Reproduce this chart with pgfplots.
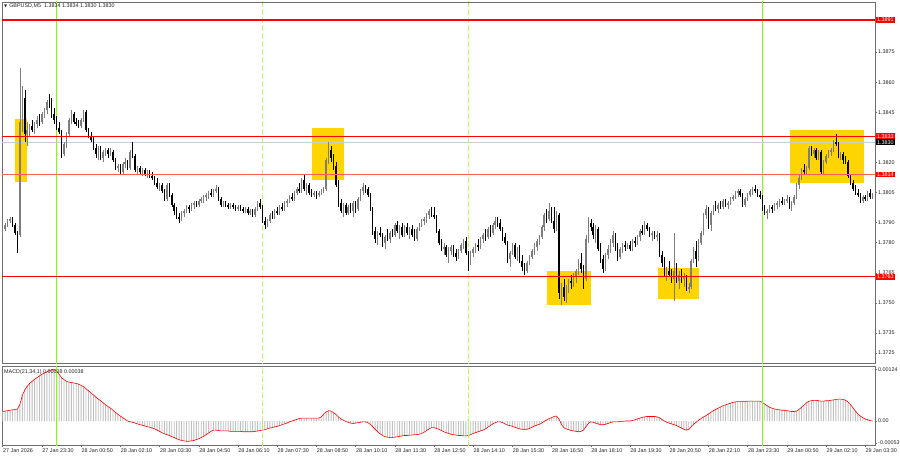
\documentclass[border=0pt]{standalone}
\usepackage{pgfplots}
\pgfplotsset{compat=1.18}
\usepackage{pgfplotstable}
\usepackage{fontspec}
\setmainfont{Liberation Sans}
\newfontfamily\symfont{DejaVu Sans}
\definecolor{lvlred}{RGB}{255,0,0}
\definecolor{lvlpink}{RGB}{255,95,95}
\definecolor{boxgold}{RGB}{255,213,0}
\definecolor{vgreen}{RGB}{128,255,0}
\definecolor{vgreen2}{RGB}{170,255,80}
\definecolor{bullgray}{RGB}{125,125,125}
\definecolor{histgray}{RGB}{192,192,192}
\definecolor{framegray}{RGB}{110,110,110}

\pgfplotstableread{
o h l c m
1.3786 1.3788 1.3784 1.3787 23e-5
1.3787 1.3790 1.3786 1.3789 24e-5
1.3789 1.3792 1.3788 1.3791 25e-5
1.3791 1.3793 1.3790 1.3792 26e-5
1.3792 1.3793 1.3788 1.3789 27e-5
1.3789 1.3790 1.3784 1.3785 28e-5
1.3785 1.3786 1.3775 1.3784 29e-5
1.3784 1.3867 1.3783 1.3840 40e-5
1.3840 1.3858 1.3835 1.3852 62e-5
1.3852 1.3856 1.3830 1.3834 75e-5
1.3834 1.3840 1.3828 1.3836 84e-5
1.3836 1.3839 1.3833 1.3838 91e-5
1.3838 1.3841 1.3835 1.3836 96e-5
1.3836 1.3840 1.3834 1.3839 101e-5
1.3839 1.3843 1.3837 1.3841 105e-5
1.3841 1.3844 1.3838 1.3840 109e-5
1.3840 1.3845 1.3839 1.3844 113e-5
1.3844 1.3847 1.3842 1.3846 116e-5
1.3846 1.3851 1.3844 1.3850 119e-5
1.3850 1.3854 1.3847 1.3848 122e-5
1.3848 1.3852 1.3842 1.3844 124e-5
1.3844 1.3847 1.3839 1.3841 124e-5
1.3841 1.3843 1.3836 1.3837 121e-5
1.3837 1.3840 1.3834 1.3835 113e-5
1.3835 1.3836 1.3822 1.3824 105e-5
1.3824 1.3830 1.3823 1.3829 100e-5
1.3829 1.3835 1.3827 1.3834 96e-5
1.3834 1.3842 1.3833 1.3841 94e-5
1.3841 1.3846 1.3839 1.3844 93e-5
1.3844 1.3845 1.3839 1.3840 92e-5
1.3840 1.3842 1.3838 1.3839 91e-5
1.3839 1.3841 1.3837 1.3838 89e-5
1.3838 1.3842 1.3837 1.3841 86e-5
1.3841 1.3846 1.3840 1.3845 83e-5
1.3845 1.3846 1.3835 1.3836 78e-5
1.3836 1.3837 1.3832 1.3833 73e-5
1.3833 1.3835 1.3830 1.3831 68e-5
1.3831 1.3833 1.3826 1.3827 63e-5
1.3827 1.3829 1.3822 1.3824 58e-5
1.3824 1.3828 1.3821 1.3826 53e-5
1.3826 1.3828 1.3821 1.3822 49e-5
1.3822 1.3826 1.3820 1.3825 44e-5
1.3825 1.3827 1.3823 1.3826 39e-5
1.3826 1.3827 1.3822 1.3824 35e-5
1.3824 1.3827 1.3823 1.3825 31e-5
1.3825 1.3826 1.3820 1.3821 26e-5
1.3821 1.3822 1.3816 1.3817 21e-5
1.3817 1.3819 1.3815 1.3818 16e-5
1.3818 1.3819 1.3814 1.3815 12e-5
1.3815 1.3820 1.3814 1.3819 8e-5
1.3819 1.3822 1.3817 1.3820 4e-5
1.3820 1.3821 1.3816 1.3817 0
1.3817 1.3826 1.3816 1.3825 -2e-5
1.3825 1.3830 1.3822 1.3823 -3e-5
1.3823 1.3824 1.3815 1.3816 -5e-5
1.3816 1.3818 1.3814 1.3817 -7e-5
1.3817 1.3818 1.3814 1.3815 -9e-5
1.3815 1.3817 1.3813 1.3816 -10e-5
1.3816 1.3817 1.3813 1.3814 -12e-5
1.3814 1.3816 1.3812 1.3815 -14e-5
1.3815 1.3816 1.3812 1.3813 -15e-5
1.3813 1.3815 1.3811 1.3812 -17e-5
1.3812 1.3813 1.3809 1.3810 -19e-5
1.3810 1.3812 1.3807 1.3808 -22e-5
1.3808 1.3810 1.3806 1.3809 -25e-5
1.3809 1.3810 1.3805 1.3806 -28e-5
1.3806 1.3807 1.3801 1.3802 -31e-5
1.3802 1.3810 1.3801 1.3809 -33e-5
1.3809 1.3810 1.3803 1.3804 -35e-5
1.3804 1.3805 1.3798 1.3799 -38e-5
1.3799 1.3800 1.3794 1.3796 -40e-5
1.3796 1.3798 1.3792 1.3793 -43e-5
1.3793 1.3795 1.3790 1.3792 -45e-5
1.3792 1.3796 1.3791 1.3795 -47e-5
1.3795 1.3797 1.3793 1.3796 -48e-5
1.3796 1.3799 1.3795 1.3798 -49e-5
1.3798 1.3799 1.3795 1.3797 -49e-5
1.3797 1.3800 1.3796 1.3799 -48e-5
1.3799 1.3801 1.3797 1.3800 -47e-5
1.3800 1.3801 1.3798 1.3799 -45e-5
1.3799 1.3802 1.3798 1.3801 -43e-5
1.3801 1.3803 1.3800 1.3802 -40e-5
1.3802 1.3804 1.3800 1.3803 -37e-5
1.3803 1.3805 1.3801 1.3804 -33e-5
1.3804 1.3806 1.3802 1.3805 -29e-5
1.3805 1.3807 1.3803 1.3804 -25e-5
1.3804 1.3807 1.3803 1.3806 -22e-5
1.3806 1.3809 1.3805 1.3807 -22e-5
1.3807 1.3808 1.3801 1.3802 -23e-5
1.3802 1.3803 1.3798 1.3799 -24e-5
1.3799 1.3801 1.3798 1.3800 -24e-5
1.3800 1.3801 1.3798 1.3799 -24e-5
1.3799 1.3800 1.3797 1.3798 -24e-5
1.3798 1.3800 1.3797 1.3799 -25e-5
1.3799 1.3800 1.3797 1.3798 -25e-5
1.3798 1.3799 1.3796 1.3797 -25e-5
1.3797 1.3799 1.3796 1.3798 -25e-5
1.3798 1.3799 1.3796 1.3797 -25e-5
1.3797 1.3798 1.3795 1.3796 -26e-5
1.3796 1.3798 1.3795 1.3797 -26e-5
1.3797 1.3798 1.3794 1.3795 -26e-5
1.3795 1.3797 1.3794 1.3796 -26e-5
1.3796 1.3797 1.3793 1.3794 -26e-5
1.3794 1.3798 1.3793 1.3797 -25e-5
1.3797 1.3801 1.3796 1.3800 -24e-5
1.3800 1.3802 1.3797 1.3798 -23e-5
1.3798 1.3799 1.3790 1.3791 -22e-5
1.3791 1.3793 1.3787 1.3789 -21e-5
1.3789 1.3792 1.3788 1.3791 -19e-5
1.3791 1.3795 1.3790 1.3794 -17e-5
1.3794 1.3796 1.3792 1.3793 -16e-5
1.3793 1.3797 1.3792 1.3796 -14e-5
1.3796 1.3798 1.3794 1.3795 -13e-5
1.3795 1.3799 1.3794 1.3798 -11e-5
1.3798 1.3800 1.3796 1.3797 -9e-5
1.3797 1.3801 1.3796 1.3800 -7e-5
1.3800 1.3802 1.3798 1.3801 -5e-5
1.3801 1.3804 1.3800 1.3803 -2e-5
1.3803 1.3805 1.3801 1.3802 0
1.3802 1.3806 1.3801 1.3805 2e-5
1.3805 1.3808 1.3804 1.3807 4e-5
1.3807 1.3810 1.3805 1.3806 6e-5
1.3806 1.3812 1.3805 1.3811 7e-5
1.3811 1.3814 1.3806 1.3807 7e-5
1.3807 1.3810 1.3804 1.3809 7e-5
1.3809 1.3810 1.3804 1.3805 7e-5
1.3805 1.3807 1.3803 1.3804 7e-5
1.3804 1.3806 1.3803 1.3805 7e-5
1.3805 1.3806 1.3802 1.3804 7e-5
1.3804 1.3806 1.3803 1.3805 7e-5
1.3805 1.3807 1.3804 1.3806 10e-5
1.3806 1.3808 1.3805 1.3807 17e-5
1.3807 1.3822 1.3806 1.3821 22e-5
1.3821 1.3830 1.3819 1.3826 25e-5
1.3826 1.3828 1.3820 1.3822 24e-5
1.3822 1.3824 1.3816 1.3818 20e-5
1.3818 1.3820 1.3808 1.3809 16e-5
1.3809 1.3811 1.3798 1.3800 10e-5
1.3800 1.3802 1.3795 1.3796 5e-5
1.3796 1.3800 1.3793 1.3799 2e-5
1.3799 1.3800 1.3794 1.3795 -1e-5
1.3795 1.3799 1.3794 1.3798 -3e-5
1.3798 1.3800 1.3795 1.3796 -5e-5
1.3796 1.3801 1.3793 1.3800 -6e-5
1.3800 1.3801 1.3795 1.3797 -5e-5
1.3797 1.3803 1.3796 1.3802 -4e-5
1.3802 1.3807 1.3801 1.3806 -3e-5
1.3806 1.3810 1.3804 1.3808 -2e-5
1.3808 1.3809 1.3805 1.3807 -2e-5
1.3807 1.3808 1.3803 1.3804 -4e-5
1.3804 1.3805 1.3796 1.3797 -8e-5
1.3797 1.3798 1.3784 1.3786 -14e-5
1.3786 1.3788 1.3780 1.3782 -20e-5
1.3782 1.3786 1.3779 1.3785 -26e-5
1.3785 1.3788 1.3783 1.3784 -31e-5
1.3784 1.3785 1.3778 1.3780 -35e-5
1.3780 1.3784 1.3777 1.3783 -38e-5
1.3783 1.3787 1.3781 1.3782 -39e-5
1.3782 1.3786 1.3780 1.3785 -40e-5
1.3785 1.3787 1.3783 1.3784 -40e-5
1.3784 1.3790 1.3783 1.3789 -39e-5
1.3789 1.3791 1.3785 1.3786 -38e-5
1.3786 1.3789 1.3782 1.3788 -37e-5
1.3788 1.3790 1.3783 1.3784 -36e-5
1.3784 1.3789 1.3783 1.3788 -35e-5
1.3788 1.3790 1.3784 1.3785 -35e-5
1.3785 1.3788 1.3782 1.3787 -34e-5
1.3787 1.3789 1.3783 1.3784 -34e-5
1.3784 1.3787 1.3781 1.3782 -33e-5
1.3782 1.3788 1.3781 1.3787 -33e-5
1.3787 1.3790 1.3786 1.3789 -32e-5
1.3789 1.3792 1.3788 1.3791 -30e-5
1.3791 1.3793 1.3789 1.3792 -27e-5
1.3792 1.3795 1.3790 1.3794 -23e-5
1.3794 1.3797 1.3792 1.3796 -19e-5
1.3796 1.3798 1.3793 1.3794 -16e-5
1.3794 1.3798 1.3792 1.3793 -16e-5
1.3793 1.3794 1.3785 1.3786 -18e-5
1.3786 1.3787 1.3779 1.3780 -20e-5
1.3780 1.3782 1.3776 1.3777 -23e-5
1.3777 1.3780 1.3774 1.3778 -26e-5
1.3778 1.3779 1.3773 1.3774 -28e-5
1.3774 1.3778 1.3770 1.3776 -30e-5
1.3776 1.3779 1.3774 1.3778 -32e-5
1.3778 1.3779 1.3773 1.3775 -33e-5
1.3775 1.3777 1.3771 1.3773 -34e-5
1.3773 1.3777 1.3772 1.3776 -35e-5
1.3776 1.3780 1.3775 1.3779 -35e-5
1.3779 1.3782 1.3777 1.3781 -36e-5
1.3781 1.3783 1.3774 1.3775 -36e-5
1.3775 1.3776 1.3766 1.3770 -35e-5
1.3770 1.3776 1.3769 1.3775 -33e-5
1.3775 1.3778 1.3773 1.3777 -30e-5
1.3777 1.3780 1.3775 1.3779 -28e-5
1.3779 1.3782 1.3776 1.3778 -26e-5
1.3778 1.3783 1.3777 1.3782 -24e-5
1.3782 1.3785 1.3780 1.3784 -22e-5
1.3784 1.3787 1.3781 1.3783 -19e-5
1.3783 1.3788 1.3782 1.3787 -15e-5
1.3787 1.3789 1.3783 1.3785 -11e-5
1.3785 1.3790 1.3784 1.3789 -7e-5
1.3789 1.3793 1.3787 1.3791 -4e-5
1.3791 1.3793 1.3788 1.3790 -2e-5
1.3790 1.3792 1.3786 1.3787 -2e-5
1.3787 1.3788 1.3781 1.3783 -4e-5
1.3783 1.3785 1.3779 1.3780 -7e-5
1.3780 1.3781 1.3770 1.3772 -10e-5
1.3772 1.3776 1.3768 1.3775 -11e-5
1.3775 1.3780 1.3774 1.3779 -13e-5
1.3779 1.3780 1.3772 1.3773 -15e-5
1.3773 1.3778 1.3771 1.3777 -17e-5
1.3777 1.3779 1.3770 1.3771 -19e-5
1.3771 1.3774 1.3766 1.3768 -20e-5
1.3768 1.3770 1.3764 1.3766 -20e-5
1.3766 1.3771 1.3765 1.3770 -20e-5
1.3770 1.3774 1.3769 1.3773 -18e-5
1.3773 1.3777 1.3772 1.3776 -15e-5
1.3776 1.3780 1.3774 1.3778 -12e-5
1.3778 1.3782 1.3776 1.3781 -10e-5
1.3781 1.3784 1.3779 1.3783 -8e-5
1.3783 1.3789 1.3782 1.3788 -5e-5
1.3788 1.3795 1.3786 1.3794 -1e-5
1.3794 1.3797 1.3790 1.3792 3e-5
1.3792 1.3800 1.3791 1.3796 6e-5
1.3796 1.3798 1.3790 1.3791 8e-5
1.3791 1.3798 1.3785 1.3787 11e-5
1.3787 1.3796 1.3786 1.3794 12e-5
1.3794 1.3795 1.3752 1.3755 5e-5
1.3755 1.3760 1.3749 1.3758 -8e-5
1.3758 1.3762 1.3751 1.3753 -16e-5
1.3753 1.3759 1.3750 1.3757 -19e-5
1.3757 1.3762 1.3755 1.3761 -21e-5
1.3761 1.3764 1.3757 1.3760 -23e-5
1.3760 1.3765 1.3758 1.3763 -24e-5
1.3763 1.3767 1.3760 1.3766 -25e-5
1.3766 1.3772 1.3764 1.3770 -26e-5
1.3770 1.3775 1.3765 1.3767 -25e-5
1.3767 1.3769 1.3757 1.3762 -22e-5
1.3762 1.3784 1.3761 1.3782 -14e-5
1.3782 1.3793 1.3780 1.3790 -6e-5
1.3790 1.3792 1.3786 1.3788 -2e-5
1.3788 1.3790 1.3782 1.3784 -3e-5
1.3784 1.3789 1.3780 1.3787 -5e-5
1.3787 1.3788 1.3776 1.3777 -7e-5
1.3777 1.3780 1.3770 1.3772 -9e-5
1.3772 1.3774 1.3765 1.3767 -9e-5
1.3767 1.3775 1.3766 1.3774 -8e-5
1.3774 1.3779 1.3772 1.3777 -6e-5
1.3777 1.3782 1.3775 1.3780 -4e-5
1.3780 1.3786 1.3778 1.3784 -2e-5
1.3784 1.3785 1.3776 1.3778 -2e-5
1.3778 1.3780 1.3771 1.3773 -2e-5
1.3773 1.3778 1.3772 1.3777 -1e-5
1.3777 1.3780 1.3775 1.3779 -1e-5
1.3779 1.3781 1.3776 1.3778 0
1.3778 1.3780 1.3777 1.3779 0
1.3779 1.3781 1.3776 1.3777 0
1.3777 1.3782 1.3776 1.3781 1e-5
1.3781 1.3783 1.3778 1.3780 3e-5
1.3780 1.3784 1.3779 1.3783 5e-5
1.3783 1.3787 1.3781 1.3786 7e-5
1.3786 1.3789 1.3784 1.3785 9e-5
1.3785 1.3791 1.3784 1.3789 10e-5
1.3789 1.3790 1.3786 1.3787 11e-5
1.3787 1.3788 1.3783 1.3784 11e-5
1.3784 1.3786 1.3781 1.3785 11e-5
1.3785 1.3786 1.3782 1.3783 11e-5
1.3783 1.3786 1.3781 1.3784 10e-5
1.3784 1.3785 1.3773 1.3774 8e-5
1.3774 1.3776 1.3768 1.3770 4e-5
1.3770 1.3773 1.3763 1.3765 0
1.3765 1.3768 1.3761 1.3766 -3e-5
1.3766 1.3771 1.3763 1.3764 -5e-5
1.3764 1.3767 1.3760 1.3762 -7e-5
1.3762 1.3785 1.3751 1.3766 -9e-5
1.3766 1.3770 1.3760 1.3761 -11e-5
1.3761 1.3766 1.3757 1.3764 -14e-5
1.3764 1.3767 1.3760 1.3762 -17e-5
1.3762 1.3765 1.3758 1.3763 -20e-5
1.3763 1.3764 1.3756 1.3757 -22e-5
1.3757 1.3760 1.3755 1.3758 -20e-5
1.3758 1.3772 1.3757 1.3771 -14e-5
1.3771 1.3778 1.3770 1.3776 -8e-5
1.3776 1.3781 1.3768 1.3772 -3e-5
1.3772 1.3782 1.3771 1.3780 2e-5
1.3780 1.3786 1.3779 1.3785 6e-5
1.3785 1.3795 1.3784 1.3794 10e-5
1.3794 1.3799 1.3792 1.3797 13e-5
1.3797 1.3798 1.3787 1.3789 17e-5
1.3789 1.3796 1.3786 1.3795 21e-5
1.3795 1.3799 1.3794 1.3798 25e-5
1.3798 1.3801 1.3796 1.3797 28e-5
1.3797 1.3800 1.3795 1.3799 31e-5
1.3799 1.3801 1.3797 1.3798 34e-5
1.3798 1.3802 1.3797 1.3801 37e-5
1.3801 1.3802 1.3798 1.3799 39e-5
1.3799 1.3801 1.3797 1.3800 41e-5
1.3800 1.3803 1.3799 1.3802 43e-5
1.3802 1.3804 1.3801 1.3803 45e-5
1.3803 1.3806 1.3802 1.3805 46e-5
1.3805 1.3807 1.3803 1.3806 47e-5
1.3806 1.3807 1.3803 1.3804 47e-5
1.3804 1.3805 1.3798 1.3799 47e-5
1.3799 1.3803 1.3798 1.3802 47e-5
1.3802 1.3805 1.3801 1.3804 48e-5
1.3804 1.3807 1.3803 1.3806 48e-5
1.3806 1.3808 1.3804 1.3807 48e-5
1.3807 1.3809 1.3805 1.3806 48e-5
1.3806 1.3807 1.3803 1.3804 48e-5
1.3804 1.3806 1.3802 1.3803 48e-5
1.3803 1.3804 1.3796 1.3797 45e-5
1.3797 1.3799 1.3794 1.3795 41e-5
1.3795 1.3797 1.3792 1.3796 37e-5
1.3796 1.3799 1.3795 1.3798 33e-5
1.3798 1.3799 1.3795 1.3797 31e-5
1.3797 1.3800 1.3796 1.3799 29e-5
1.3799 1.3801 1.3797 1.3800 28e-5
1.3800 1.3802 1.3798 1.3801 27e-5
1.3801 1.3803 1.3799 1.3800 26e-5
1.3800 1.3802 1.3799 1.3801 26e-5
1.3801 1.3804 1.3800 1.3802 25e-5
1.3802 1.3803 1.3797 1.3798 24e-5
1.3798 1.3801 1.3796 1.3800 23e-5
1.3800 1.3804 1.3799 1.3803 23e-5
1.3803 1.3810 1.3802 1.3809 24e-5
1.3809 1.3814 1.3807 1.3812 28e-5
1.3812 1.3817 1.3811 1.3816 33e-5
1.3816 1.3819 1.3814 1.3815 38e-5
1.3815 1.3818 1.3814 1.3817 44e-5
1.3817 1.3828 1.3816 1.3827 48e-5
1.3827 1.3828 1.3823 1.3824 49e-5
1.3824 1.3827 1.3822 1.3826 50e-5
1.3826 1.3827 1.3821 1.3822 50e-5
1.3822 1.3826 1.3821 1.3825 49e-5
1.3825 1.3826 1.3814 1.3815 48e-5
1.3815 1.3821 1.3814 1.3820 48e-5
1.3820 1.3824 1.3819 1.3823 49e-5
1.3823 1.3826 1.3822 1.3825 49e-5
1.3825 1.3827 1.3823 1.3826 50e-5
1.3826 1.3831 1.3825 1.3830 51e-5
1.3830 1.3834 1.3828 1.3829 52e-5
1.3829 1.3830 1.3822 1.3823 53e-5
1.3823 1.3825 1.3821 1.3824 53e-5
1.3824 1.3825 1.3819 1.3821 52e-5
1.3821 1.3823 1.3819 1.3820 50e-5
1.3820 1.3821 1.3812 1.3813 46e-5
1.3813 1.3814 1.3809 1.3810 40e-5
1.3810 1.3811 1.3806 1.3807 32e-5
1.3807 1.3809 1.3804 1.3805 24e-5
1.3805 1.3807 1.3803 1.3804 17e-5
1.3804 1.3805 1.3800 1.3801 12e-5
1.3801 1.3804 1.3800 1.3803 8e-5
1.3803 1.3804 1.3801 1.3802 5e-5
1.3802 1.3806 1.3801 1.3805 3e-5
1.3805 1.3807 1.3802 1.3803 1e-5
1.3803 1.3805 1.3802 1.3804 0
}\candles

\pgfplotsset{
  mtframe/.style={
    scale only axis, xmin=-0.3, xmax=356, clip=true,
    axis line style={framegray, line width=0.8pt},
    tick style={framegray, line width=0.5pt},
    tick align=outside, major tick length=2pt,
    ticklabel style={font=\fontsize{5.4}{6}\selectfont, text=black!85},
  },
  candle/.style={draw=none, mark=none, forget plot,
    error bars/y dir=plus, error bars/y explicit, error bars/error mark=none},
}

\begin{document}
\begin{tikzpicture}[font=\fontsize{5.4}{6}\selectfont]
\fill[white] (0,0) rectangle (900pt,-460pt);
\path[use as bounding box] (0,0) rectangle (900pt,-460pt);

\begin{axis}[mtframe, name=main, at={(2pt,-2pt)}, anchor=north west,
  width=873pt, height=361pt, ymin=1.3720, ymax=1.3900,
  xtick=\empty,
  ytick={1.3725,1.3735,1.3750,1.3765,1.3780,1.3790,1.3805,1.3820,1.3845,1.3860,1.3875},
  yticklabels={1.3725,1.3735,1.3750,1.3765,1.3780,1.3790,1.3805,1.3820,1.3845,1.3860,1.3875},
  ytick pos=right, yticklabel pos=right,
  yticklabel style={inner xsep=1pt}]
% highlight boxes
\fill[boxgold] (axis cs:5,1.38417) rectangle (axis cs:9.8,1.38102);
\fill[boxgold] (axis cs:126.1,1.38372) rectangle (axis cs:139.2,1.38112);
\fill[boxgold] (axis cs:222,1.37659) rectangle (axis cs:240,1.37489);
\fill[boxgold] (axis cs:267.3,1.37674) rectangle (axis cs:284.1,1.37519);
\fill[boxgold] (axis cs:321.2,1.38362) rectangle (axis cs:351.4,1.38097);
% vertical separators
\addplot[vgreen, line width=1.4pt, forget plot] coordinates {(22,1.371) (22,1.391)};
\addplot[vgreen, line width=1.4pt, forget plot] coordinates {(310,1.371) (310,1.391)};
\addplot[vgreen2, line width=0.8pt, dash pattern=on 4pt off 1.5pt on 1pt off 1.5pt, forget plot] coordinates {(106,1.371) (106,1.391)};
\addplot[vgreen2, line width=0.8pt, dash pattern=on 4pt off 1.5pt on 1pt off 1.5pt, forget plot] coordinates {(190,1.371) (190,1.391)};
% bid line
\addplot[gray!40, line width=0.8pt, forget plot] coordinates {(-5,1.3830) (360,1.3830)};
% candles: wicks
\addplot[candle, restrict expr to domain={\thisrow{c}-\thisrow{o}}{-0.00005:1},
  error bars/error bar style={draw=bullgray, solid, line width=0.5pt}]
  table[x expr=\coordindex, y=l, y error expr=\thisrow{h}-\thisrow{l}] {\candles};
\addplot[candle, restrict expr to domain={\thisrow{o}-\thisrow{c}}{0.00005:1},
  error bars/error bar style={draw=black, solid, line width=0.5pt}]
  table[x expr=\coordindex, y=l, y error expr=\thisrow{h}-\thisrow{l}] {\candles};
% candles: bodies
\addplot[candle, restrict expr to domain={\thisrow{c}-\thisrow{o}}{-0.00005:1},
  error bars/error bar style={draw=bullgray, solid, line width=1.5pt}]
  table[x expr=\coordindex, y=o, y error expr=\thisrow{c}-\thisrow{o}] {\candles};
\addplot[candle, restrict expr to domain={\thisrow{o}-\thisrow{c}}{0.00005:1},
  error bars/error bar style={draw=black, solid, line width=1.5pt}]
  table[x expr=\coordindex, y=c, y error expr=\thisrow{o}-\thisrow{c}] {\candles};
% levels
\addplot[lvlpink, line width=0.9pt, forget plot] coordinates {(-5,1.3814) (360,1.3814)};
\addplot[lvlred, line width=1.3pt, forget plot] coordinates {(-5,1.3891) (360,1.3891)};
\addplot[lvlred, line width=1.3pt, forget plot] coordinates {(-5,1.3833) (360,1.3833)};
\addplot[lvlred, line width=1.3pt, forget plot] coordinates {(-5,1.3763) (360,1.3763)};
\coordinate (p1) at (axis cs:356,1.3891);
\coordinate (p2) at (axis cs:356,1.3833);
\coordinate (p3) at (axis cs:356,1.3830);
\coordinate (p4) at (axis cs:356,1.3814);
\coordinate (p5) at (axis cs:356,1.3763);
\end{axis}

\begin{axis}[mtframe, name=macd, at={(2pt,-366pt)}, anchor=north west,
  width=873pt, height=79pt, ymin=-0.00058, ymax=0.00133,
  scaled y ticks=false,
  ytick={-0.00053,0,0.00124}, yticklabels={-0.00053,0.00,0.00124},
  ytick pos=right, yticklabel pos=right,
  yticklabel style={inner xsep=1pt},
  xtick={0,16,...,352},
  xticklabels={27 Jan 2026,27 Jan 23:30,28 Jan 00:50,28 Jan 02:10,28 Jan 03:30,28 Jan 04:50,28 Jan 06:10,28 Jan 07:30,28 Jan 08:50,28 Jan 10:10,28 Jan 11:30,28 Jan 12:50,28 Jan 14:10,28 Jan 15:30,28 Jan 16:50,28 Jan 18:10,28 Jan 19:30,28 Jan 20:50,28 Jan 22:10,28 Jan 23:30,29 Jan 00:50,29 Jan 02:10,29 Jan 03:30},
  xtick pos=bottom,
  xticklabel style={anchor=north west, inner xsep=0.3pt, inner ysep=1.5pt}]
\addplot[ybar, bar width=0.9pt, bar shift=0pt, fill=histgray, draw=none, forget plot]
  table[x expr=\coordindex, y=m] {\candles};
\addplot[red, line width=0.6pt, mark=none, forget plot]
  table[x expr=\coordindex, y=m] {\candles};
\addplot[vgreen, line width=1.4pt, forget plot] coordinates {(22,-0.001) (22,0.002)};
\addplot[vgreen, line width=1.4pt, forget plot] coordinates {(310,-0.001) (310,0.002)};
\addplot[vgreen2, line width=0.8pt, dash pattern=on 4pt off 1.5pt on 1pt off 1.5pt, forget plot] coordinates {(106,-0.001) (106,0.002)};
\addplot[vgreen2, line width=0.8pt, dash pattern=on 4pt off 1.5pt on 1pt off 1.5pt, forget plot] coordinates {(190,-0.001) (190,0.002)};
\end{axis}

% price labels on the scale
\tikzset{plbl/.style={anchor=west, text=white, inner xsep=1.3pt, inner ysep=1pt, font=\fontsize{5.4}{6}\selectfont}}
\node[plbl, fill=lvlred] at ([xshift=0.6pt]p1) {1.3891};
\node[plbl, fill=lvlred] at ([xshift=0.6pt]p2) {1.3833};
\node[plbl, fill=black] at ([xshift=0.6pt]p3) {1.3830};
\node[plbl, fill=lvlred] at ([xshift=0.6pt]p4) {1.3814};
\node[plbl, fill=lvlred] at ([xshift=0.6pt]p5) {1.3763};

% headers
\node[anchor=north west, inner sep=0pt, text=black!85] at (4pt,-4pt)
  {{\symfont\fontsize{4}{5}\selectfont ▼}\hspace{2pt}GBPUSD,M5\hspace{3pt}1.3834 1.3834 1.3830 1.3830};
\node[anchor=north west, inner sep=0pt, text=black!85] at (4pt,-369pt)
  {MACD(21,34,1) 0.00038 0.00038};
\end{tikzpicture}
\end{document}
